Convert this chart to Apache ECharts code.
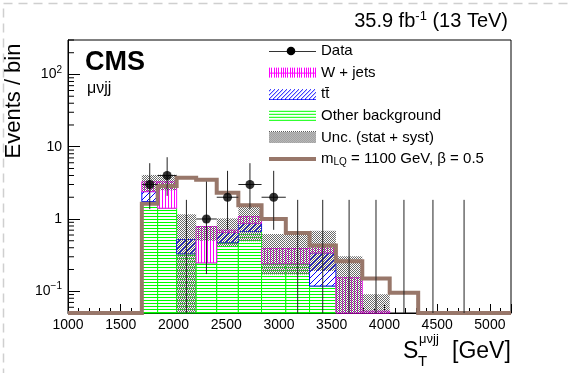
<!DOCTYPE html>
<html><head><meta charset="utf-8">
<script src="https://cdn.jsdelivr.net/npm/echarts@6/dist/echarts.min.js"></script>
<style>html,body{margin:0;padding:0;background:#fff}#c{width:568px;height:373px}</style>
</head><body><div id="c"></div>
<script>
// ---------------- data ----------------
const binEdges   = [1700, 1850, 2030, 2215, 2410, 2615, 2835, 3065, 3290, 3540, 3790, 4050, 4320, 4600, 4910];
const otherBkg   = [1.74, 1.41, 0.33, 0.247, 0.47, 0.67, 0.24, 0.24, 0.118, 0.03, 0, 0, 0, 0];
const ttbar      = [0.65, 0.0, 0.19, 0.0, 0.18, 0.20, 0.0, 0.0, 0.22, 0.0, 0, 0, 0, 0];
const wjets      = [0.88, 1.86, 0.0, 0.54, 0.05, 0.21, 0.15, 0.15, 0.10, 0.124, 0.053, 0, 0, 0];
const uncLow     = [2.40, 2.50, 0, 0.50, 0.42, 0.49, 0.17, 0.17, 0.19, 0, 0, 0, 0, 0];
const uncHigh    = [4.07, 4.10, 1.16, 0.80, 1.02, 1.48, 0.62, 0.62, 0.69, 0.306, 0.091, 0, 0, 0];
const signalLQ   = [1.62, 2.85, 3.72, 3.50, 2.30, 1.55, 1.00, 0.64, 0.43, 0.26, 0.15, 0.095, 0, 0];
const dataCounts = [3, 4, 0, 1, 2, 3, 2, 0, 0, 0, 0, 0, 0, 0];
const dataLow    = [1.37, 2.09, 0, 0.173, 0.708, 1.37, 0.708, 0, 0, 0, 0, 0, 0, 0];
const dataHigh   = [5.92, 7.16, 1.84, 3.30, 4.64, 5.92, 4.64, 1.84, 1.84, 1.84, 1.84, 1.84, 1.84, 1.84];
const xTickLabels = ['1000','1500','2000','2500','3000','3500','4000','4500','5000'];
const yMinorTicks = [0.06,0.07,0.08,0.09,0.2,0.3,0.4,0.5,0.6,0.7,0.8,0.9,2,3,4,5,6,7,8,9,20,30,40,50,60,70,80,90,200,300];

const xMin = 1000, xMax = 5200, yMin = 0.05, yMax = 300;
const FONT = '"Liberation Sans", Arial, Helvetica, sans-serif';

// ---------------- patterns ----------------
function mk(w, h, draw) { const c = document.createElement('canvas'); c.width = w; c.height = h; const g = c.getContext('2d'); draw(g, w, h); return c; }
const greenTile = mk(4, 3, (g, w, h) => { g.fillStyle = '#fff'; g.fillRect(0,0,w,h); g.fillStyle = '#00ff00'; g.fillRect(0,0,w,1); });
const magTile = mk(3, 4, (g, w, h) => { g.fillStyle = '#fff'; g.fillRect(0,0,w,h); g.fillStyle = '#ff00ff'; g.fillRect(0,0,1,h); });
const blueTile = mk(6, 6, (g, w, h) => { g.fillStyle = '#fff'; g.fillRect(0,0,w,h); g.strokeStyle = '#0000ff'; g.lineWidth = 1;
  g.beginPath(); g.moveTo(-1,7); g.lineTo(7,-1); g.moveTo(-1,1); g.lineTo(1,-1); g.moveTo(5,7); g.lineTo(7,5); g.stroke(); });
const checkTile = mk(2, 2, (g) => { g.fillStyle = '#6a6a6a'; g.fillRect(0,0,1,1); g.fillRect(1,1,1,1); });
const pat = c => ({ image: c, repeat: 'repeat' });

// legend icons
const IW = 47, IH = 12;
const iconData = mk(IW, IH, (g) => { g.strokeStyle = '#333'; g.lineWidth = 1; g.beginPath(); g.moveTo(0,6.5); g.lineTo(IW,6.5); g.stroke();
  g.fillStyle = '#000'; g.beginPath(); g.arc(22, 6, 4.3, 0, Math.PI*2); g.fill(); });
const iconW = mk(IW, IH, (g) => { g.fillStyle = '#ff00ff'; for (let x = 0; x < IW; x += 2.3) g.fillRect(Math.round(x), 1, 1, 10); g.fillRect(0, 6, IW, 1); });
const iconT = mk(IW, IH, (g) => { g.strokeStyle = '#0000ff'; g.lineWidth = 1; g.beginPath();
  for (let x = -12; x < IW + 12; x += 4) { g.moveTo(x, 11); g.lineTo(x + 10, 1); } g.stroke(); g.fillStyle = '#0000ff'; g.fillRect(0, 11, IW, 1); });
const iconO = mk(IW, IH, (g) => { g.fillStyle = '#00ff00'; for (let y = 1; y < 12; y += 3) g.fillRect(0, y, IW, 1); });
const iconU = mk(IW, IH, (g) => { g.fillStyle = '#5a5a5a'; for (let y = 0; y < IH; y++) for (let x = 0; x < IW; x++) if ((x + y) % 2 === 0) g.fillRect(x, y, 1, 1); });
const iconS = mk(IW, IH, (g) => { g.fillStyle = '#98776a'; g.fillRect(0, 4, IW, 4); });
const img = c => 'image://' + c.toDataURL();

// cumulative stacks
const cumOther = otherBkg.slice();
const cumTt = otherBkg.map((v, i) => v + ttbar[i]);
const cumW = cumTt.map((v, i) => v + wjets[i]);
const idx = binEdges.slice(0, -1).map((_, i) => i);
const centers = idx.map(i => (binEdges[i] + binEdges[i + 1]) / 2);

function boxSeries(name, lows, highs, fill, stroke, z) {
  return {
    type: 'custom', name, z, data: idx, silent: true,
    renderItem(params, api) {
      const i = api.value(0);
      const lo = Math.max(lows[i], yMin), hi = highs[i];
      if (!(hi > lo)) return null;
      const p0 = api.coord([binEdges[i], hi]), p1 = api.coord([binEdges[i + 1], lo]);
      return { type: 'rect', shape: { x: p0[0], y: p0[1], width: p1[0] - p0[0], height: p1[1] - p0[1] },
        style: { fill, stroke: stroke || null, lineWidth: 1 } };
    }
  };
}

const signalName = 'm_LQ = 1100 GeV, β = 0.5';
const ttName = 'tt\u0304';

const option = {
  animation: false,
  backgroundColor: '#fff',
  grid: { left: 68, right: 57, top: 40, bottom: 60, show: true, borderColor: '#000', borderWidth: 1, backgroundColor: 'transparent' },
  title: [
    { text: '35.9 fb{sup|-1} (13 TeV)', right: 60, top: 10, padding: 0,
      textStyle: { fontFamily: FONT, fontSize: 20, fontWeight: 'normal', color: '#000',
        rich: { sup: { fontFamily: FONT, fontSize: 13, color: '#000', padding: [0, 0, 10, 0] } } } },
    { text: 'CMS', left: 85, top: 49, padding: 0, textStyle: { fontFamily: FONT, fontSize: 27, fontWeight: 'bold', color: '#000' } },
    { text: 'μνjj', left: 87, top: 81, padding: 0, textStyle: { fontFamily: FONT, fontSize: 16, fontWeight: 'normal', color: '#000' } }
  ],
  legend: {
    orient: 'vertical', left: 264, top: 38, itemWidth: IW, itemHeight: IH, itemGap: 5.6, selectedMode: false,
    textStyle: { fontFamily: FONT, fontSize: 15, color: '#000', lineHeight: 16, padding: [0, 0, 0, 0],
      rich: { t: { fontFamily: FONT, fontSize: 15, color: '#000' }, sub: { fontFamily: FONT, fontSize: 10, color: '#000', padding: [7, 0, 0, 0] } } },
    formatter: n => n === signalName ? '{t|m}{sub|LQ}{t| = 1100 GeV, β = 0.5}' : n,
    data: [
      { name: 'Data', icon: img(iconData) },
      { name: 'W + jets', icon: img(iconW) },
      { name: ttName, icon: img(iconT) },
      { name: 'Other background', icon: img(iconO) },
      { name: 'Unc. (stat + syst)', icon: img(iconU) },
      { name: signalName, icon: img(iconS) }
    ]
  },
  xAxis: {
    type: 'value', min: xMin, max: xMax, interval: 500,
    axisLine: { show: true, lineStyle: { color: '#000', width: 1 } },
    axisTick: { show: true, inside: true, length: 9, lineStyle: { color: '#000' } },
    minorTick: { show: true, splitNumber: 5, length: 5, lineStyle: { color: '#000' } },
    splitLine: { show: false },
    axisLabel: { show: true, margin: 5, fontFamily: FONT, fontSize: 14, color: '#000', showMaxLabel: false,
      formatter: v => xTickLabels.indexOf(String(v)) >= 0 ? String(v) : '' }
  },
  yAxis: {
    type: 'log', logBase: 10, min: yMin, max: yMax,
    axisLine: { show: true, lineStyle: { color: '#000', width: 1 } },
    axisTick: { show: true, inside: true, length: 12, lineStyle: { color: '#000' } },
    splitLine: { show: false },
    axisLabel: { margin: 6, fontFamily: FONT, fontSize: 14, color: '#000', showMinLabel: false, showMaxLabel: false,
      rich: { sup: { fontFamily: FONT, fontSize: 10, color: '#000', padding: [0, 0, 9, 0] } },
      formatter: v => {
        const e = Math.round(Math.log10(v) * 1000) / 1000;
        if (e === 2) return '10{sup|2}';
        if (e === 1) return '10';
        if (e === 0) return '1';
        if (e === -1) return '10{sup|−1}';
        return '';
      } }
  },
  graphic: [
    { type: 'rect', left: 1, top: 1, shape: { width: 566, height: 371 }, style: { fill: 'none', stroke: '#cfcfcf', lineWidth: 1.5, lineDash: [9, 6] }, z: 0, silent: true },
    { type: 'text', x: 14, y: 101, rotation: Math.PI / 2,
      style: { text: 'Events / bin', font: '22px ' + FONT, fill: '#000', align: 'center', verticalAlign: 'middle' } },
    { type: 'text', x: 403, y: 340, style: { text: 'S', font: '23px ' + FONT, fill: '#000', verticalAlign: 'top' } },
    { type: 'text', x: 418, y: 354, style: { text: 'T', font: '15px ' + FONT, fill: '#000', verticalAlign: 'top' } },
    { type: 'text', x: 419, y: 333, style: { text: 'μνjj', font: '13px ' + FONT, fill: '#000', verticalAlign: 'top' } },
    { type: 'text', x: 452, y: 340, style: { text: '[GeV]', font: '23px ' + FONT, fill: '#000', verticalAlign: 'top' } }
  ],
  series: [
    boxSeries('Other background', idx.map(() => 0), cumOther, pat(greenTile), '#00ff00', 2),
    boxSeries(ttName, cumOther, cumTt, pat(blueTile), '#0000ff', 3),
    boxSeries('W + jets', cumTt, cumW, pat(magTile), '#ff00ff', 4),
    boxSeries('Unc. (stat + syst)', uncLow, uncHigh, pat(checkTile), null, 5),
    {
      type: 'custom', name: 'minorticks', z: 6, silent: true, data: yMinorTicks, legendHoverLink: false,
      renderItem(params, api) {
        const p = api.coord([xMin, api.value(0)]);
        return { type: 'line', shape: { x1: p[0], y1: p[1], x2: p[0] + 6, y2: p[1] }, style: { stroke: '#000', lineWidth: 1 } };
      }
    },
    {
      type: 'custom', name: signalName, z: 7, silent: true, data: [0],
      renderItem(params, api) {
        const pts = [api.coord([xMin, yMin]), api.coord([binEdges[0], yMin])];
        signalLQ.forEach((v, i) => {
          const vv = Math.max(v, yMin);
          pts.push(api.coord([binEdges[i], vv]));
          pts.push(api.coord([binEdges[i + 1], vv]));
        });
        pts.push(api.coord([xMax, yMin]));
        return { type: 'polyline', shape: { points: pts }, style: { stroke: '#98776a', lineWidth: 4, fill: null, lineJoin: 'miter' } };
      }
    },
    {
      type: 'custom', name: 'Data', z: 8, silent: true, data: idx,
      renderItem(params, api) {
        const i = api.value(0);
        const c = centers[i];
        const top = api.coord([c, dataHigh[i]]);
        const bot = api.coord([c, Math.max(dataLow[i], yMin)]);
        const kids = [{ type: 'line', shape: { x1: top[0], y1: top[1], x2: bot[0], y2: bot[1] }, style: { stroke: '#222', lineWidth: 1 } }];
        if (dataCounts[i] > 0) {
          const a = api.coord([binEdges[i], dataCounts[i]]), b = api.coord([binEdges[i + 1], dataCounts[i]]);
          kids.push({ type: 'line', shape: { x1: a[0], y1: a[1], x2: b[0], y2: b[1] }, style: { stroke: '#222', lineWidth: 1 } });
        }
        return { type: 'group', children: kids };
      }
    },
    {
      type: 'scatter', name: 'Data', z: 9, silent: true, symbol: 'circle', symbolSize: 9,
      itemStyle: { color: '#000' },
      data: idx.filter(i => dataCounts[i] > 0).map(i => [centers[i], dataCounts[i]])
    }
  ]
};

const chart = echarts.init(document.getElementById('c'), null, { renderer: 'canvas' });
chart.setOption(option);
</script></body></html>
